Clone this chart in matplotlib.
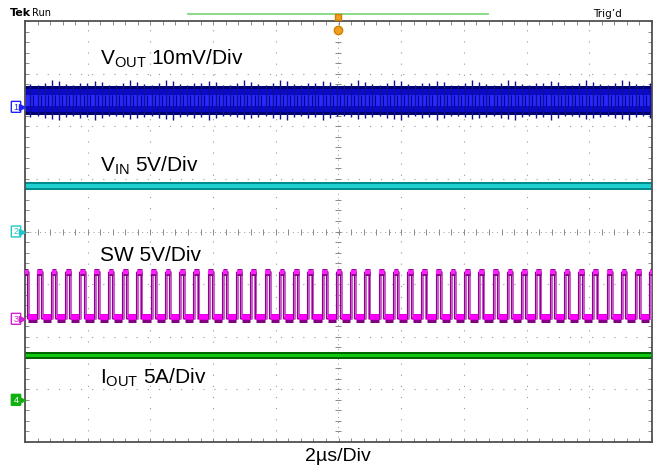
#! /usr/bin/env python3

import numpy as np
import matplotlib
matplotlib.use("Agg")
import matplotlib.pyplot as plt
from matplotlib.lines import Line2D
from matplotlib.patches import FancyBboxPatch

# scope settings
time_per_div_us = 2.0
n_hdiv = 10
n_vdiv = 8

# channel offsets (divisions from centre)
ch_offsets = [2.37, 0.0, -1.66, -3.2]
ch_colors = ["#2020ff", "#20c8c8", "#d020d0", "#10b010"]
ch_names = ["1", "2", "3", "4"]

# VOUT ripple band (divisions)
vout_outer = (2.22, 2.76)
vout_mid = (2.28, 2.70)
vout_core = (2.38, 2.60)
vout_spike_top = [2.84, 2.79, 2.88, 2.80, 2.83, 2.86, 2.78, 2.82]
vout_spike_bot = [2.15, 2.19, 2.13, 2.18, 2.16, 2.12, 2.20, 2.17]

# VIN band
vin_band = (0.79, 0.94)
# IOUT band
iout_band = (-2.42, -2.29)

# SW node
sw_high = -0.77
sw_low = -1.64
sw_period_us = 0.4545
sw_on_us = 0.13
sw_first_edge_us = -10.05

labels = ["$\\mathregular{V_{OUT}}$ 10mV/Div", "$\\mathregular{V_{IN}}$ 5V/Div",
          "SW 5V/Div", "$\\mathregular{I_{OUT}}$ 5A/Div"]
label_y_px = [65, 172, 261, 384]

plt.rcParams['font.family'] = ['Liberation Sans', 'DejaVu Sans']
plt.rcParams['mathtext.fontset'] = 'custom'
plt.rcParams['mathtext.rm'] = 'Liberation Sans'

W, H = 658, 468
fig = plt.figure(figsize=(W / 100, H / 100), dpi=100)
x0, x1, y0, y1 = 25, 652, 21, 442
ax = fig.add_axes([x0 / W, 1 - y1 / H, (x1 - x0) / W, (y1 - y0) / H])
ax.set_xlim(-n_hdiv / 2, n_hdiv / 2)
ax.set_ylim(-n_vdiv / 2, n_vdiv / 2)

# grid
for gx in range(-4, 5):
    if gx != 0:
        ax.axvline(gx, color="#9a9a9a", lw=0.8, ls=(0, (1, 9)), zorder=0)
for gy in range(-3, 4):
    if gy != 0:
        ax.axhline(gy, color="#9a9a9a", lw=0.8, ls=(0, (1, 9)), zorder=0)
ax.axhline(0, color="#9a9a9a", lw=0.7, ls=(0, (1, 4)), zorder=0)
ax.axvline(0, color="#9a9a9a", lw=0.7, ls=(0, (1, 4)), zorder=0)
minor_x = np.arange(-5, 5.01, 0.2)
minor_y = np.arange(-4, 4.01, 0.2)
ax.plot(minor_x, np.zeros_like(minor_x), ls="none", marker="|", ms=4,
        mew=0.7, color="#8a8a8a", zorder=0)
ax.plot(np.zeros_like(minor_y), minor_y, ls="none", marker="_", ms=4,
        mew=0.7, color="#8a8a8a", zorder=0)

ax.set_xticks([])
ax.set_yticks([])
ax.set_xticks(minor_x, minor=True)
ax.set_yticks(minor_y, minor=True)
ax.tick_params(which="minor", direction="in", length=3, width=0.7,
               color="#8a8a8a", top=True, right=True,
               labelbottom=False, labelleft=False)
for s in ax.spines.values():
    s.set_color("#505050")
    s.set_linewidth(1.3)

def t2d(t):
    return t / time_per_div_us

# switching edges
edges = np.arange(sw_first_edge_us, 10.1, sw_period_us)

# VOUT
xx = np.array([-5, 5])
ax.fill_between(xx, *vout_outer, color="#00006e", lw=0, zorder=2)
ax.fill_between(xx, *vout_mid, color="#0a0ac8", lw=0, zorder=2)
ax.fill_between(xx, *vout_core, color="#2828ff", lw=0, zorder=2)
for i, e in enumerate(edges):
    for dt, k in ((0.0, 0), (0.22, 3)):
        xe = t2d(e + dt)
        if -5 <= xe <= 5:
            ax.vlines(xe, vout_spike_bot[(i + k) % 8], vout_spike_top[(i + k) % 8],
                      color="#101090", lw=1.0, zorder=3)
            ax.vlines(xe + 0.05, vout_core[0], vout_core[1],
                      color="#000090", lw=0.8, zorder=3)

# VIN
ax.fill_between(xx, *vin_band, color="#008c8c", lw=0, zorder=2)
ax.fill_between(xx, vin_band[0] + 0.04, vin_band[1] - 0.04, color="#20d0d0",
                lw=0, zorder=2)

# IOUT
ax.fill_between(xx, *iout_band, color="#006400", lw=0, zorder=2)
ax.fill_between(xx, iout_band[0] + 0.03, iout_band[1] - 0.04, color="#10c810",
                lw=0, zorder=2)

# SW
sx, sy = [], []
for e in edges:
    sx += [e, e, e + sw_on_us, e + sw_on_us]
    sy += [sw_low, sw_high, sw_high, sw_low]
sx = t2d(np.array(sx))
ax.plot(sx, sy, color="#c860c8", lw=2.2, zorder=3)
ax.plot(sx - 0.015, sy, color="#900090", lw=0.8, zorder=3)
for e in edges:
    a, b = t2d(e - 0.01), t2d(e + sw_on_us + 0.01)
    ax.plot([a, b], [sw_high, sw_high], color="#8a008a", lw=5,
            solid_capstyle="butt", zorder=4)
    ax.plot([a, b], [sw_high, sw_high], color="#ff20ff", lw=3,
            solid_capstyle="butt", zorder=4)
    c = t2d(e + sw_on_us + 0.03)
    d = t2d(e + sw_period_us - 0.03)
    ax.plot([c, d], [sw_low, sw_low], color="#800080", lw=6.5,
            solid_capstyle="butt", zorder=4)
    ax.plot([c, d], [sw_low + 0.01, sw_low + 0.01], color="#ff00ff", lw=4,
            solid_capstyle="butt", zorder=4)

# labels
for txt, yp in zip(labels, label_y_px):
    fig.text(100 / W, 1 - yp / H, txt, fontsize=15, va="baseline",
             ha="left", color="black")
fig.text(338 / W, 1 - 461 / H, "2\u00b5s/Div", fontsize=14, va="baseline",
         ha="center")

# top status
fig.text(10 / W, 1 - 16 / H, "Tek", fontsize=8, fontweight="bold",
         va="baseline", family=["DejaVu Sans"])
fig.text(32 / W, 1 - 16 / H, "Run", fontsize=7, va="baseline",
         family=["DejaVu Sans"])
fig.text(593 / W, 1 - 17 / H, "Trig\u2019d", fontsize=7.5, va="baseline",
         family=["DejaVu Sans"])
fig.add_artist(Line2D([188 / W, 488 / W], [1 - 14 / H, 1 - 14 / H],
                      color="#80d880", lw=1.3))
fig.add_artist(Line2D([338 / W], [1 - 17 / H], marker="s", ms=5,
                      color="#f0a020", mec="#d08000"))
fig.add_artist(Line2D([338 / W], [1 - 30 / H], marker="o", ms=6,
                      color="#f0a020", mec="#d08000"))

# channel markers
for off, col, name in zip(ch_offsets, ch_colors, ch_names):
    yp = 231.5 - off * 52.6
    filled = name == "4"
    box = FancyBboxPatch((12 / W, 1 - (yp + 5) / H), 8 / W, 10 / H,
                         boxstyle="round,pad=0.001", transform=fig.transFigure,
                         fc=col if filled else "white", ec=col, lw=1.0)
    fig.add_artist(box)
    fig.add_artist(Line2D([22 / W], [1 - yp / H], marker=">", ms=4,
                          color=col, mec=col))
    fig.text(16 / W, 1 - (yp + 0.5) / H, name, fontsize=6.5, ha="center",
             va="center", color="white" if filled else col)

plt.savefig("out.png", dpi=100)
plt.close(fig)
